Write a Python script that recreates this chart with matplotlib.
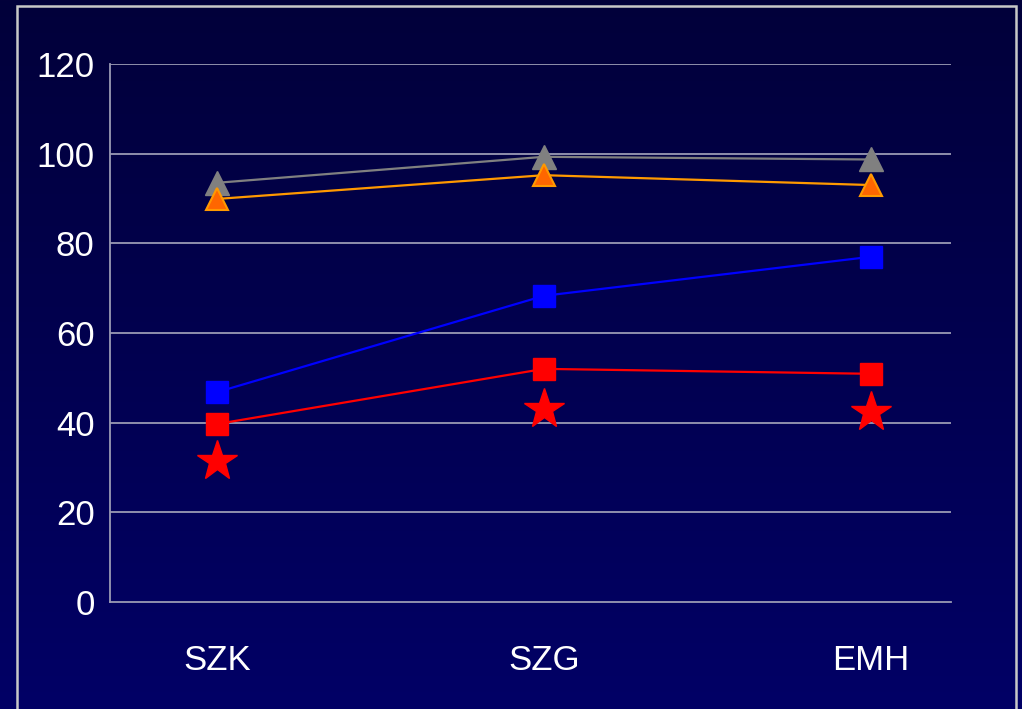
import numpy as np
import matplotlib
matplotlib.use("Agg")
import matplotlib.pyplot as plt
from matplotlib.patches import Rectangle

categories = ["SZK", "SZG", "EMH"]
gray_series = [93.5, 99.3, 98.7]
orange_series = [89.9, 95.2, 93.0]
blue_series = [46.8, 68.3, 77.0]
red_series = [39.7, 52.0, 50.9]
star_points = [31.5, 43.0, 42.4]
y_ticks = [0, 20, 40, 60, 80, 100, 120]

plt.rcParams["font.family"] = ["Liberation Sans", "DejaVu Sans"]

fig = plt.figure(figsize=(10.22, 7.09), dpi=100)

# vertical gradient background across the whole figure
bg = fig.add_axes([0, 0, 1, 1], zorder=-10)
grad = np.linspace(0, 1, 256).reshape(-1, 1)
top = np.array([0x02, 0x00, 0x3a]) / 255
bot = np.array([0x01, 0x00, 0x66]) / 255
img = top + (bot - top) * grad[:, :, None]
bg.imshow(img, aspect="auto", extent=[0, 1, 0, 1], origin="upper")
bg.add_patch(Rectangle((17 / 1022, -0.05), (1016 - 17) / 1022, (709 - 6) / 709 + 0.05,
                       fill=False, edgecolor="#c8c8c8", linewidth=1.8,
                       transform=bg.transAxes))
bg.set_xlim(0, 1)
bg.set_ylim(0, 1)
bg.axis("off")

W, H = 1022, 709
left, right, top_px, bottom_px = 110, 951, 64, 602
ax = fig.add_axes([left / W, 1 - bottom_px / H, (right - left) / W, (bottom_px - top_px) / H])
ax.set_facecolor("none")

x = np.arange(len(categories))
grid_color = "#9a9ab4"

for yv in y_ticks[1:]:
    ax.axhline(yv, color=grid_color, linewidth=1.3, zorder=1)

ax.plot(x, gray_series, color="#808080", linewidth=1.6, marker="^", markersize=17,
        markerfacecolor="#808080", markeredgecolor="#808080", zorder=3)
ax.plot(x, orange_series, color="#ff9900", linewidth=1.6, marker="^", markersize=16,
        markerfacecolor="#ff6600", markeredgecolor="#ff9900", markeredgewidth=1.5, zorder=3)
ax.plot(x, blue_series, color="#0000ff", linewidth=1.6, marker="s", markersize=16,
        markerfacecolor="#0000ff", markeredgecolor="#0000ff", zorder=3)
ax.plot(x, red_series, color="#ff0000", linewidth=1.6, marker="s", markersize=16,
        markerfacecolor="#ff0000", markeredgecolor="#ff0000", zorder=3)
ax.plot(x, star_points, linestyle="none", marker="*", markersize=30,
        markerfacecolor="#ff0000", markeredgecolor="#ff0000", zorder=3)

ax.set_xlim(-0.327, 2.245)
ax.set_ylim(0, 120)

for side in ["top", "right"]:
    ax.spines[side].set_visible(False)
for side in ["left", "bottom"]:
    ax.spines[side].set_color(grid_color)
    ax.spines[side].set_linewidth(1.3)

ax.set_yticks(y_ticks)
ax.set_yticklabels([str(v) for v in y_ticks])
ax.set_xticks(x)
ax.set_xticklabels(categories)
ax.tick_params(axis="y", length=0, pad=11, labelsize=25, labelcolor="white")
ax.tick_params(axis="x", length=0, pad=30, labelsize=25, labelcolor="white")

fig.savefig("out.png", dpi=100)
